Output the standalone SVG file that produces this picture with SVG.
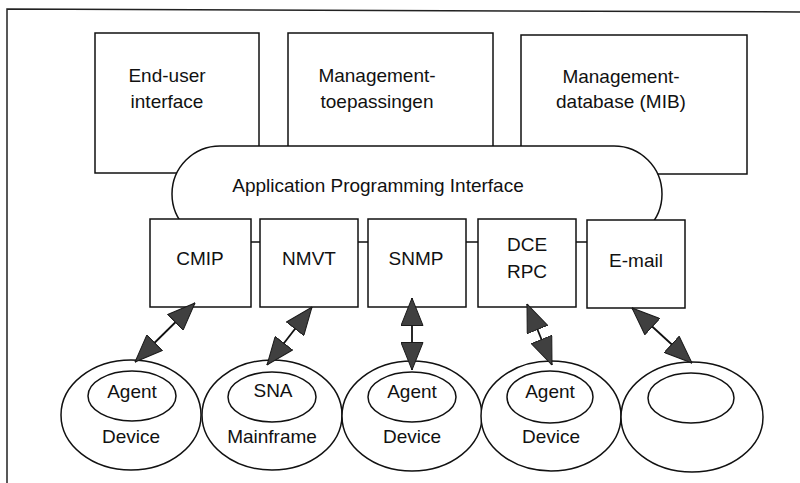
<svg xmlns="http://www.w3.org/2000/svg" width="800" height="483" viewBox="0 0 800 483">
<style>
  .box { fill: #fff; stroke: #111; stroke-width: 1.5; }
  .ell { fill: #fff; stroke: #111; stroke-width: 1.5; }
  .t { font-family: "Liberation Sans", Arial, sans-serif; font-size: 19px; fill: #111; text-anchor: middle; }
  .arr { stroke: #111; stroke-width: 1.8; fill: none; marker-start: url(#head); marker-end: url(#head); }
</style>
<defs>
  <marker id="head" viewBox="0 0 28 23" refX="28" refY="11.5" markerWidth="28" markerHeight="23" markerUnits="userSpaceOnUse" orient="auto-start-reverse">
    <path d="M0.5,0.5 L28,11.5 L0.5,22.5 Z" fill="#404040" stroke="#1a1a1a" stroke-width="1"/>
  </marker>
</defs>
<rect width="800" height="483" fill="#fff"/>
<path d="M7,483 L7,9 L800,12" fill="none" stroke="#222" stroke-width="1.5"/>

<g id="enduser">
  <rect class="box" x="95" y="33" width="164" height="140"/>
  <text class="t" x="167" y="82">End-user</text>
  <text class="t" x="167" y="108">interface</text>
</g>
<g id="mgmt-apps">
  <rect class="box" x="288" y="33" width="205" height="140"/>
  <text class="t" x="377" y="82">Management-</text>
  <text class="t" x="377" y="108">toepassingen</text>
</g>
<g id="mib">
  <rect class="box" x="521" y="35" width="226" height="139"/>
  <text class="t" x="621" y="83">Management-</text>
  <text class="t" x="621" y="108">database (MIB)</text>
</g>
<g id="api">
  <rect class="box" x="172" y="146" width="490" height="96" rx="48" ry="48"/>
  <text class="t" x="378" y="192">Application Programming Interface</text>
</g>
<g id="cmip">
  <rect class="box" x="150" y="219" width="101" height="88"/>
  <text class="t" x="200" y="265">CMIP</text>
</g>
<g id="nmvt">
  <rect class="box" x="260" y="219" width="98" height="88"/>
  <text class="t" x="309" y="265">NMVT</text>
</g>
<g id="snmp">
  <rect class="box" x="368" y="219" width="98" height="88"/>
  <text class="t" x="416" y="265">SNMP</text>
</g>
<g id="dcerpc">
  <rect class="box" x="478" y="219" width="98" height="88"/>
  <text class="t" x="527" y="251">DCE</text>
  <text class="t" x="527" y="278">RPC</text>
</g>
<g id="email">
  <rect class="box" x="587" y="220" width="98" height="88"/>
  <text class="t" x="636" y="267">E-mail</text>
</g>

<g id="dev1">
  <ellipse class="ell" cx="131" cy="415" rx="70" ry="55"/>
  <ellipse class="ell" cx="132" cy="396" rx="44" ry="25"/>
  <text class="t" x="132" y="398">Agent</text>
  <text class="t" x="131" y="443">Device</text>
</g>
<g id="mainframe">
  <ellipse class="ell" cx="272" cy="415" rx="70" ry="55"/>
  <ellipse class="ell" cx="272" cy="397" rx="44" ry="25"/>
  <text class="t" x="273" y="397">SNA</text>
  <text class="t" x="272" y="443">Mainframe</text>
</g>
<g id="dev3">
  <ellipse class="ell" cx="412" cy="416" rx="70" ry="55"/>
  <ellipse class="ell" cx="412" cy="397" rx="44" ry="25"/>
  <text class="t" x="412" y="398">Agent</text>
  <text class="t" x="412" y="443">Device</text>
</g>
<g id="dev4">
  <ellipse class="ell" cx="551" cy="416" rx="70" ry="55"/>
  <ellipse class="ell" cx="550" cy="397" rx="43" ry="26"/>
  <text class="t" x="550" y="398">Agent</text>
  <text class="t" x="551" y="443">Device</text>
</g>
<g id="dev5">
  <ellipse class="ell" cx="692" cy="417" rx="71" ry="55"/>
  <ellipse class="ell" cx="691" cy="398" rx="43" ry="25"/>
</g>

<g id="connectors">
  <line class="arr" x1="135" y1="362" x2="195" y2="303"/>
  <line class="arr" x1="267" y1="365" x2="312" y2="307"/>
  <line class="arr" x1="412" y1="370" x2="412" y2="298"/>
  <line class="arr" x1="552" y1="365" x2="527" y2="304"/>
  <line class="arr" x1="692" y1="363" x2="632" y2="308"/>
</g>
</svg>
